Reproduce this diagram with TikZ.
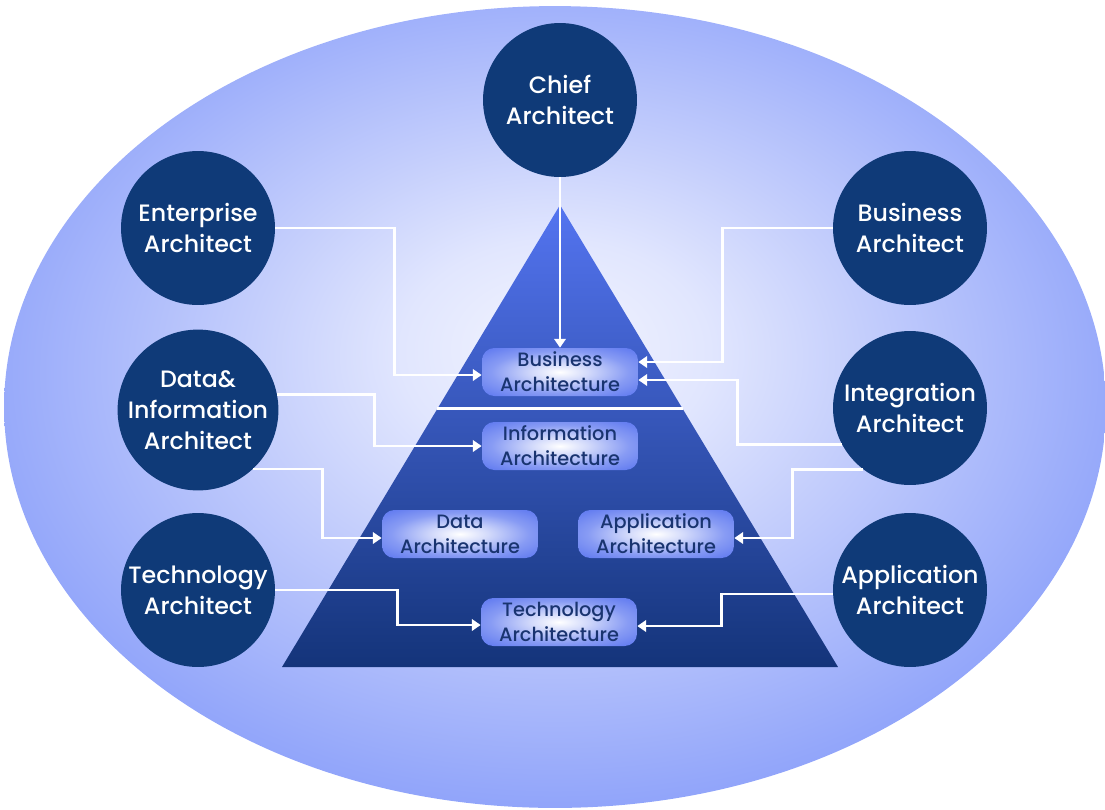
\documentclass[tikz,border=0pt]{standalone}
\usepackage{fontspec}
\setmainfont{Poppins}[UprightFont={* Medium}, BoldFont={* SemiBold}]
\usetikzlibrary{arrows.meta,calc}
\definecolor{navy}{RGB}{15,58,120}
\definecolor{bgA}{RGB}{242,244,255}
\definecolor{bgB}{RGB}{225,230,254}
\definecolor{bgC}{RGB}{196,206,252}
\definecolor{bgD}{RGB}{148,167,250}
\definecolor{bgE}{RGB}{116,140,248}
\definecolor{pyrtop}{RGB}{84,116,240}
\definecolor{pyrmid}{RGB}{44,84,192}
\definecolor{pyrbot}{RGB}{20,52,122}
\definecolor{boxedge}{RGB}{96,122,240}
\definecolor{boxtext}{RGB}{25,52,112}
\pgfdeclareradialshading{bgshade}{\pgfpoint{0bp}{4bp}}{color(0bp)=(bgA); color(7bp)=(bgB); color(14bp)=(bgC); color(26bp)=(bgD); color(35bp)=(bgE); color(50bp)=(bgE)}
\pgfdeclareradialshading{boxshade}{\pgfpoint{0bp}{0bp}}{color(0bp)=(white); color(9bp)=(white!72!boxedge); color(22bp)=(boxedge!75!white); color(34bp)=(boxedge); color(50bp)=(boxedge)}
\tikzset{
  role/.style={circle, fill=navy, minimum size=3.08cm, inner sep=0pt, text=white, align=center, font=\fontsize{13.5}{17.6}\selectfont},
  layer/.style={rounded corners=7pt, minimum width=3.12cm, minimum height=0.96cm, inner sep=0pt, shading=boxshade, text=boxtext, align=center, font=\fontsize{11}{14.3}\selectfont},
  conn/.style={draw=white, line width=1.6pt, -{Triangle[length=5pt,width=6.5pt]}}
}
\begin{document}
\begin{tikzpicture}[x=0.02cm, y=-0.02cm]
\useasboundingbox (0,0) rectangle (1105,809);
% background ellipse
\shade[shading=bgshade] (555,407) ellipse [x radius=11.02cm, y radius=8.02cm];
% pyramid
\shade[top color=pyrtop, middle color=pyrmid, bottom color=pyrbot] (560,205) -- (838,667) -- (282,667) -- cycle;
\draw[white, line width=1.7pt] (437,408) -- (683,408);
% roles
\node[role] (chief) at (560,100) {Chief\\Architect};
\node[role] (ent) at (198,228) {Enterprise\\Architect};
\node[role] (dia) at (198,410) {Data\&\\Information\\Architect};
\node[role] (tec) at (198,590) {Technology\\Architect};
\node[role] (bar) at (910,228) {Business\\Architect};
\node[role] (int) at (910,408) {Integration\\Architect};
\node[role] (apa) at (910,590) {Application\\Architect};
% layers
\node[layer] (busa) at (560,372) {Business\\Architecture};
\node[layer] (infa) at (560,446) {Information\\Architecture};
\node[layer] (data) at (460,534) {Data\\Architecture};
\node[layer] (appa) at (656,534) {Application\\Architecture};
\node[layer] (teca) at (559,622) {Technology\\Architecture};
% connectors
\draw[conn] (chief.south) -- (busa.north);
\draw[conn] (ent.east) -| ($(busa.west)+(-87,3)$) -- ($(busa.west)+(0,3)$);
\draw[conn] (bar.west) -| ($(busa.east)+(84,-10)$) -- ($(busa.east)+(0,-10)$);
\draw[conn] (int.208.7) -| ($(busa.east)+(99,8)$) -- ($(busa.east)+(0,8)$);
\draw[conn] (dia.11.2) -| ($(infa.west)+(-107,0)$) -- (infa.west);
\draw[conn] (dia.-47.8) -| ($(data.west)+(-59,4)$) -- ($(data.west)+(0,4)$);
\draw[conn] (int.233.6) -| ($(appa.east)+(58,4)$) -- ($(appa.east)+(0,4)$);
\draw[conn] (tec.east) -| ($(teca.west)+(-83,3)$) -- ($(teca.west)+(0,3)$);
\draw[conn] (apa.183.7) -| ($(teca.east)+(84,4)$) -- ($(teca.east)+(0,4)$);
\end{tikzpicture}
\end{document}
